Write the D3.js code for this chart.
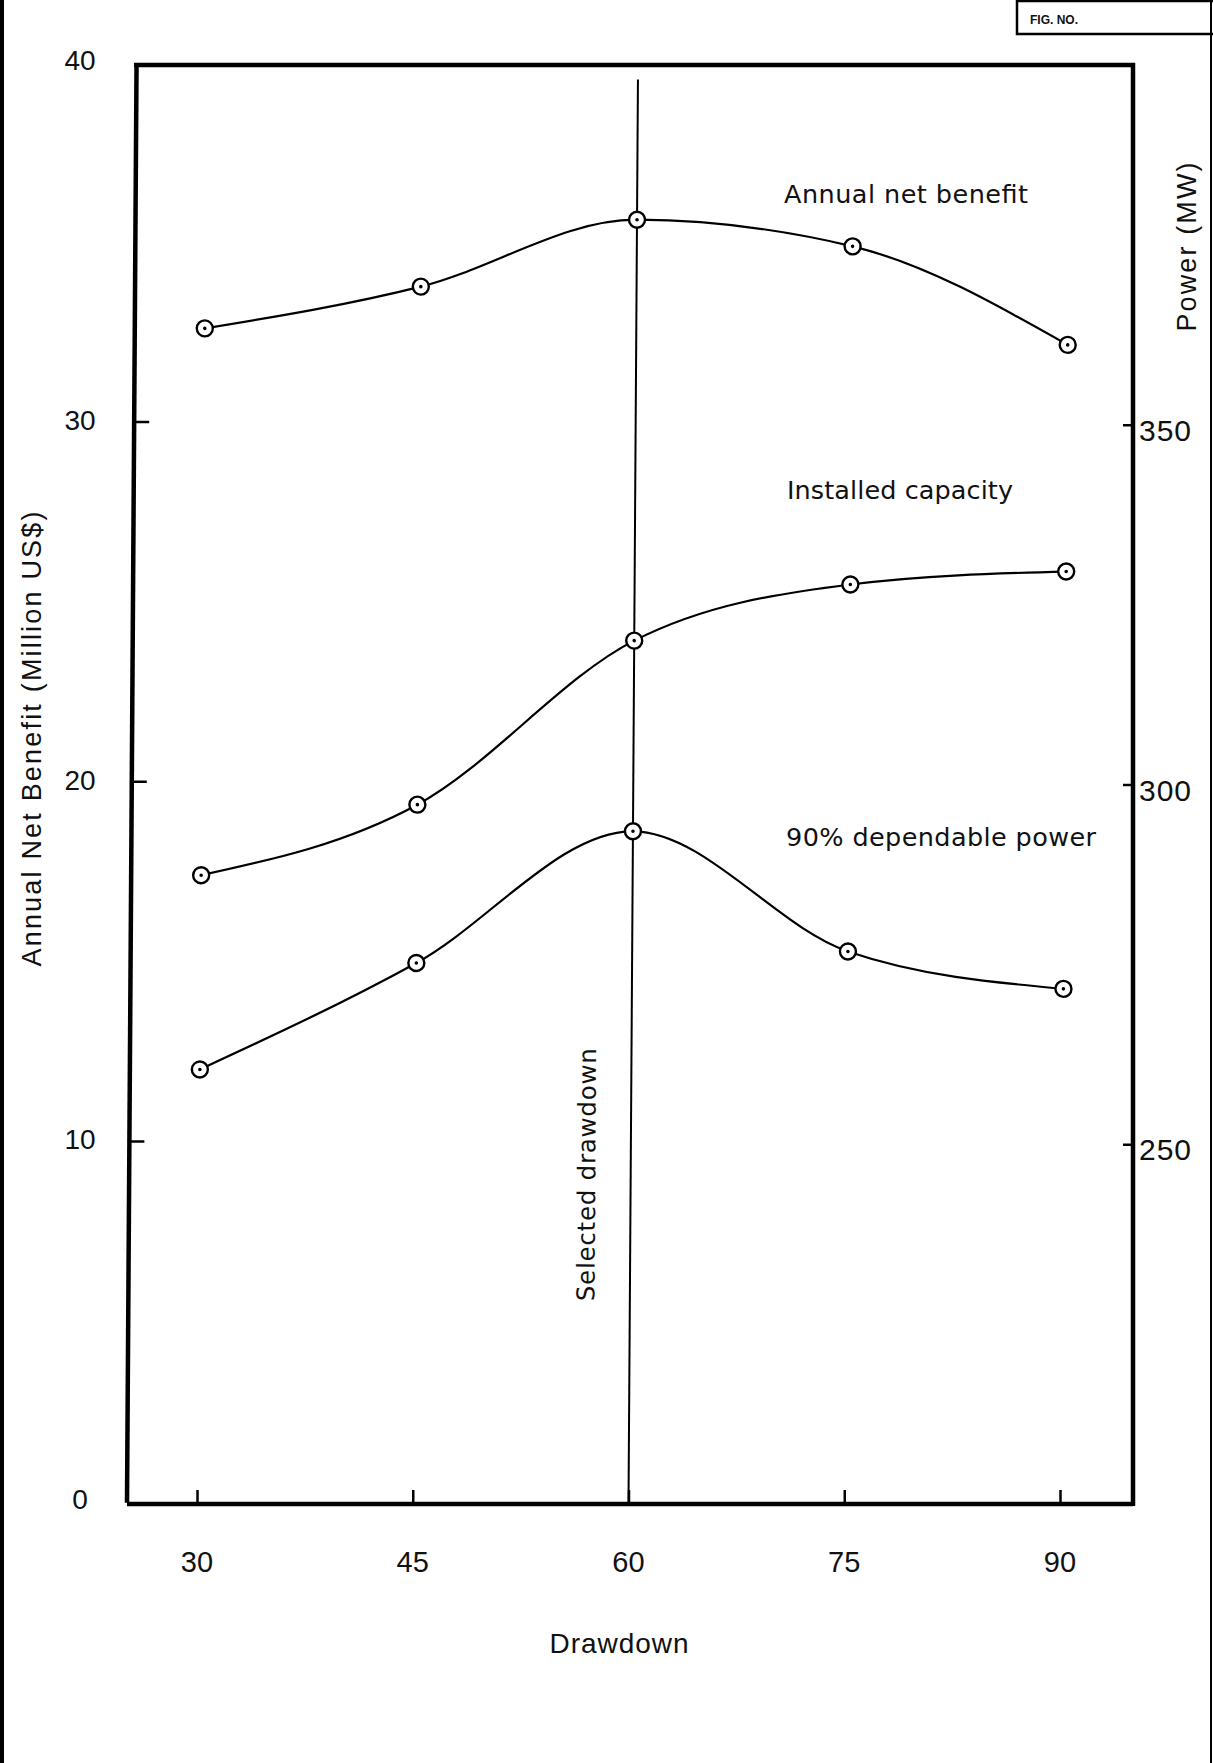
<!DOCTYPE html>
<html>
<head>
<meta charset="utf-8">
<script src="https://cdn.jsdelivr.net/npm/d3@7"></script>
<style>
  html, body { margin: 0; padding: 0; background: #fff; }
  svg { display: block; }
  text { font-family: "Liberation Sans", Arial, Helvetica, sans-serif; fill: #111; }
  text.wide { font-family: "DejaVu Sans", "Liberation Sans", sans-serif; }
</style>
</head>
<body>
<svg id="chart" width="1213" height="1763"></svg>
<script>
// ---- data ----
const drawdown = [30, 45, 60, 75, 90];
const netBenefit = [32.6, 33.8, 35.7, 35.0, 32.3];          // Million US$ (left axis)
const installedCapacity = [287, 297, 320, 328, 330];        // MW (right axis)
const dependablePower = [260, 275, 293.5, 277, 272];        // MW (right axis)
const xTickValues = [30, 45, 60, 75, 90];
const leftTickValues = [10, 20, 30];
const leftTickLabels = [0, 10, 20, 30, 40];
const rightTickValues = [250, 300, 350];
const selectedDrawdown = 60;

// ---- layout ----
const W = 1213, H = 1763;
const svg = d3.select("#chart");
svg.append("rect").attr("width", W).attr("height", H).attr("fill", "#fff");

const x = d3.scaleLinear().domain([30, 90]).range([197, 1060]);
const yL = d3.scaleLinear().domain([0, 40]).range([1504, 65]);
const yR = d3.scaleLinear().domain([200, 400]).range([1504, 65]);
const leftX = 127, rightX = 1133;
const tilt = 0.38; // scan tilt (degrees)
const pivotX = x(selectedDrawdown), pivotY = yL(0);

// page border
svg.append("line").attr("x1", 2).attr("x2", 2).attr("y1", 0).attr("y2", H)
  .attr("stroke", "#000").attr("stroke-width", 4);
svg.append("line").attr("x1", 1211).attr("x2", 1211).attr("y1", 0).attr("y2", H)
  .attr("stroke", "#000").attr("stroke-width", 2);
// FIG. NO. box
svg.append("path").attr("d", "M1017,1 H1213 M1017,0 V34 H1213")
  .attr("fill", "none").attr("stroke", "#000").attr("stroke-width", 2.5);
svg.append("text").attr("x", 1030).attr("y", 24).attr("font-size", 12)
  .attr("font-weight", "bold").text("FIG. NO.");

// ---- unrotated frame parts ----
// bottom axis
const xAxis = d3.axisBottom(x).tickValues(xTickValues).tickSizeInner(-14).tickSizeOuter(0).tickFormat("");
const gx = svg.append("g").attr("transform", `translate(0,${yL(0)})`).call(xAxis);
gx.select(".domain").attr("d", `M${leftX},0 H${rightX}`).attr("stroke-width", 4.5);
gx.selectAll(".tick line").attr("stroke-width", 2.5);
// x tick labels
svg.append("g").selectAll("text").data(xTickValues).join("text")
  .attr("x", d => x(d)).attr("y", yL(0) + 68)
  .attr("text-anchor", "middle").attr("font-size", 29).text(d => d);
// x title
svg.append("text").attr("x", 619).attr("y", 1653).attr("text-anchor", "middle")
  .attr("font-size", 28).attr("textLength", 139).text("Drawdown");

// right axis
const rAxis = d3.axisLeft(yR).tickValues(rightTickValues).tickSizeInner(10).tickSizeOuter(0).tickFormat("");
const gr = svg.append("g").attr("transform", `translate(${rightX},0)`).call(rAxis);
gr.select(".domain").attr("d", `M0,${yR(400) - 2} V${yR(200) + 2}`).attr("stroke-width", 4.5);
gr.selectAll(".tick line").attr("stroke-width", 2.5);
svg.append("g").selectAll("text").data(rightTickValues).join("text")
  .attr("x", rightX + 6).attr("y", d => yR(d) + 16)
  .attr("font-size", 30).attr("textLength", 52).text(d => d);
svg.append("text").attr("transform", "translate(1187,247) rotate(-90)")
  .attr("text-anchor", "middle").attr("dominant-baseline", "central")
  .attr("font-size", 27).attr("textLength", 169).text("Power (MW)");

// top border
svg.append("line").attr("x1", 134).attr("x2", rightX + 2).attr("y1", yL(40)).attr("y2", yL(40))
  .attr("stroke", "#000").attr("stroke-width", 4.5);

// left tick labels and title (unrotated)
svg.append("g").selectAll("text").data(leftTickLabels).join("text")
  .attr("x", 80).attr("y", d => yL(d) + 5)
  .attr("text-anchor", "middle").attr("font-size", 28).text(d => d);
svg.append("text").attr("transform", "translate(32,739) rotate(-90)")
  .attr("text-anchor", "middle").attr("dominant-baseline", "central")
  .attr("font-size", 27).attr("textLength", 455).text("Annual Net Benefit  (Million US$)");

// ---- tilted layer (as in the scan) ----
const g = svg.append("g").attr("transform", `rotate(${tilt},${pivotX},${pivotY})`);

const lAxis = d3.axisRight(yL).tickValues(leftTickValues).tickSizeInner(15).tickSizeOuter(0).tickFormat("");
const gl = g.append("g").attr("transform", `translate(${leftX},0)`).call(lAxis);
gl.select(".domain").attr("d", `M0,${yL(40) + 2} V${yL(0) + 2}`).attr("stroke-width", 4.5);
gl.selectAll(".tick line").attr("stroke-width", 2.5);

// selected drawdown line
g.append("line").attr("x1", x(selectedDrawdown)).attr("x2", x(selectedDrawdown))
  .attr("y1", yL(39.6)).attr("y2", yL(0))
  .attr("stroke", "#000").attr("stroke-width", 2);
g.append("text").attr("class", "wide")
  .attr("transform", `translate(${x(selectedDrawdown) - 44},${1175}) rotate(-90)`)
  .attr("text-anchor", "middle").attr("dominant-baseline", "central")
  .attr("font-size", 24.5).attr("textLength", 253).text("Selected drawdown");

const series = [
  { values: netBenefit, y: yL },
  { values: installedCapacity, y: yR },
  { values: dependablePower, y: yR }
];
series.forEach(s => {
  const pts = drawdown.map((d, i) => [x(d), s.y(s.values[i])]);
  g.append("path").attr("d", d3.line().curve(d3.curveMonotoneX)(pts))
    .attr("fill", "none").attr("stroke", "#000").attr("stroke-width", 2.2);
  const mk = g.append("g").selectAll("g").data(pts).join("g")
    .attr("transform", p => `translate(${p[0]},${p[1]})`);
  mk.append("circle").attr("r", 8).attr("fill", "#fff").attr("stroke", "#000").attr("stroke-width", 2.4);
  mk.append("circle").attr("r", 1.8).attr("fill", "#000");
});

// series labels
const labels = [
  { t: "Annual net benefit", x: 784, y: 194, len: 244 },
  { t: "Installed capacity", x: 787, y: 490, len: 226 },
  { t: "90% dependable power", x: 786, y: 837, len: 310 }
];
svg.append("g").selectAll("text").data(labels).join("text").attr("class", "wide")
  .attr("x", d => d.x).attr("y", d => d.y).attr("dominant-baseline", "central")
  .attr("font-size", 25.5).attr("textLength", d => d.len).text(d => d.t);
</script>
</body>
</html>
